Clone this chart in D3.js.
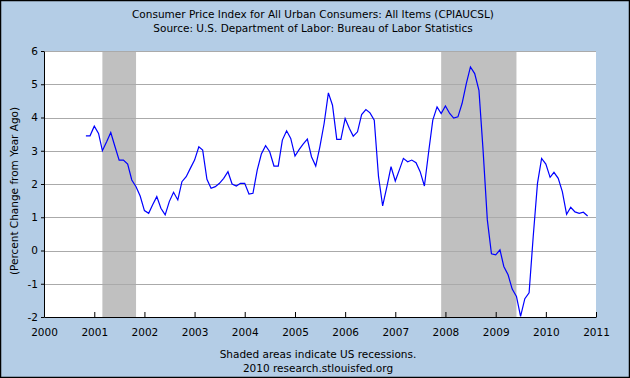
<!DOCTYPE html>
<html>
<head>
<meta charset="utf-8">
<script src="https://cdn.jsdelivr.net/npm/d3@7"></script>
<style>
html,body{margin:0;padding:0;background:#b4cde6;}
svg{display:block;}
text{font-family:"DejaVu Sans",Verdana,sans-serif;fill:#000;}
</style>
</head>
<body>
<svg id="chart" width="630" height="378"></svg>
<script>
const titleLines = ["Consumer Price Index for All Urban Consumers: All Items (CPIAUCSL)",
                    "Source: U.S. Department of Labor: Bureau of Labor Statistics"];
const footerLines = ["Shaded areas indicate US recessions.", "2010 research.stlouisfed.org"];
const yLabel = "(Percent Change from Year Ago)";
const startMonth = "2000-11";
// Monthly values, Nov 2000 .. Nov 2010
const values = [
  3.45, 3.45,
  3.74, 3.52, 3.00, 3.27, 3.55, 3.12, 2.72, 2.72, 2.60, 2.12, 1.92, 1.64,
  1.20, 1.12, 1.37, 1.62, 1.27, 1.07, 1.47, 1.75, 1.52, 2.07, 2.22, 2.47,
  2.72, 3.12, 3.02, 2.14, 1.87, 1.92, 2.02, 2.17, 2.37, 2.00, 1.94, 2.02,
  2.02, 1.70, 1.72, 2.42, 2.90, 3.15, 2.97, 2.54, 2.54, 3.32, 3.60, 3.37,
  2.84, 3.04, 3.20, 3.35, 2.82, 2.54, 3.12, 3.82, 4.74, 4.37, 3.34, 3.34,
  3.97, 3.67, 3.44, 3.57, 4.09, 4.24, 4.14, 3.92, 2.22, 1.34, 1.92, 2.52,
  2.09, 2.44, 2.77, 2.67, 2.72, 2.64, 2.37, 1.94, 2.97, 3.92, 4.32, 4.12,
  4.35, 4.12, 3.98, 4.02, 4.42, 5.02, 5.52, 5.32, 4.82, 3.02, 0.92, -0.10,
  -0.13, 0.02, -0.48, -0.73, -1.16, -1.38, -1.98, -1.45, -1.27, 0.42, 2.02, 2.77,
  2.60, 2.20, 2.35, 2.17, 1.77, 1.09, 1.30, 1.16, 1.12, 1.15, 1.04
];
const recessions = [["2001-03-01", "2001-11-01"], ["2007-12-01", "2009-06-01"]];
const xTickYears = [2000, 2001, 2002, 2003, 2004, 2005, 2006, 2007, 2008, 2009, 2010, 2011];
const yTicks = [-2, -1, 0, 1, 2, 3, 4, 5, 6];

const parse = d3.timeParse("%Y-%m-%d");
const start = d3.timeParse("%Y-%m")(startMonth);
const data = values.map((v, i) => ({date: d3.timeMonth.offset(start, i), value: v}));

const svg = d3.select("#chart");
const W = 630, H = 378;
const m = {left: 44, right: 34, top: 51, bottom: 61};

svg.append("rect").attr("x", 0.5).attr("y", 0.5).attr("width", W - 1).attr("height", H - 1)
  .attr("fill", "#b4cde6").attr("stroke", "#000").attr("stroke-width", 1.5);

const x = d3.scaleTime()
  .domain([new Date(2000, 0, 1), new Date(2011, 0, 1)])
  .range([m.left, W - m.right]);
const y = d3.scaleLinear().domain([-2, 6]).range([H - m.bottom, m.top]);

svg.append("rect").attr("x", m.left).attr("y", m.top)
  .attr("width", W - m.right - m.left).attr("height", H - m.bottom - m.top).attr("fill", "#fff");

svg.append("g").selectAll("rect").data(recessions).join("rect")
  .attr("x", d => x(parse(d[0])))
  .attr("width", d => x(parse(d[1])) - x(parse(d[0])))
  .attr("y", m.top).attr("height", H - m.bottom - m.top)
  .attr("fill", "#c0c0c0");

svg.append("g").selectAll("line").data(yTicks.filter(t => t > -2)).join("line")
  .attr("x1", m.left).attr("x2", W - m.right)
  .attr("y1", d => Math.round(y(d)) + 0.5).attr("y2", d => Math.round(y(d)) + 0.5)
  .attr("stroke", "#aaaaaa").attr("stroke-width", 1);

const line = d3.line().x(d => x(d.date)).y(d => y(d.value));
svg.append("path").datum(data).attr("d", line)
  .attr("fill", "none").attr("stroke", "#0000ff").attr("stroke-width", 1.2);

const xAxis = svg.append("g").attr("transform", `translate(0,${H - m.bottom})`)
  .call(d3.axisBottom(x).tickValues(xTickYears.map(yr => new Date(yr, 0, 1)))
    .tickFormat(d3.timeFormat("%Y")).tickSizeInner(-5).tickSizeOuter(0).tickPadding(12));
xAxis.select(".domain").attr("stroke", "#000");
xAxis.selectAll("line").attr("stroke", "#000");
xAxis.selectAll("text").attr("font-size", "10.5px").attr("font-family", "DejaVu Sans, Verdana, sans-serif");

const yAxis = svg.append("g").attr("transform", `translate(${m.left},0)`)
  .call(d3.axisLeft(y).tickValues(yTicks).tickFormat(d => String(d)).tickSizeInner(3).tickSizeOuter(0).tickPadding(3));
yAxis.select(".domain").attr("stroke", "#000");
yAxis.selectAll("line").attr("stroke", "#000");
yAxis.selectAll("text").attr("font-size", "10.5px").attr("font-family", "DejaVu Sans, Verdana, sans-serif");

svg.append("text").attr("transform", `translate(18,191) rotate(-90)`)
  .attr("text-anchor", "middle").attr("font-size", "10.5px").text(yLabel);

svg.selectAll(".title").data(titleLines).join("text").attr("class", "title")
  .attr("x", 313).attr("y", (d, i) => 18 + i * 13.5)
  .attr("text-anchor", "middle").attr("font-size", "10.5px").text(d => d);

svg.selectAll(".footer").data(footerLines).join("text").attr("class", "footer")
  .attr("x", 318).attr("y", (d, i) => 358 + i * 14)
  .attr("text-anchor", "middle").attr("font-size", "10.5px").text(d => d);
</script>
</body>
</html>
